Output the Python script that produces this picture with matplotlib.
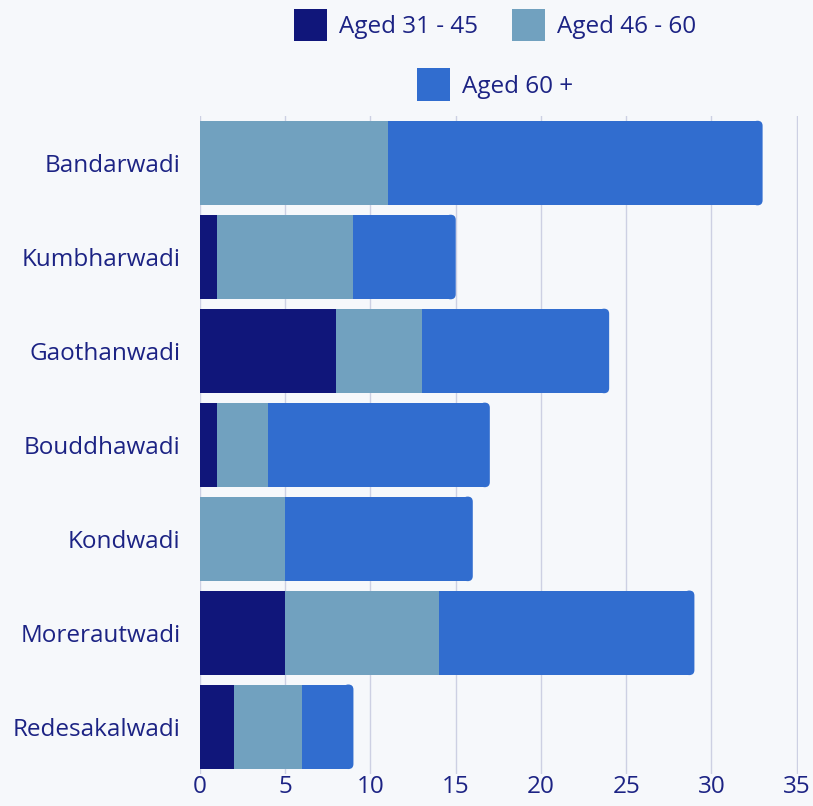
import numpy as np
import matplotlib.pyplot as plt
from matplotlib.patches import FancyBboxPatch, Patch

# ---------- data ----------
villages = ["Bandarwadi", "Kumbharwadi", "Gaothanwadi", "Bouddhawadi",
            "Kondwadi", "Morerautwadi", "Redesakalwadi"]
aged_31_45 = [0, 1, 8, 1, 0, 5, 2]
aged_46_60 = [11, 8, 5, 3, 5, 9, 4]
aged_60_plus = [22, 6, 11, 13, 11, 15, 3]
series_names = ["Aged 31 - 45", "Aged 46 - 60", "Aged 60 +"]
x_ticks = [0, 5, 10, 15, 20, 25, 30, 35]

# ---------- style ----------
colors = ["#10167a", "#71a1bf", "#316dcf"]
bg = "#f6f8fb"
text_col = "#1c2384"
grid_col = "#cdd0e3"
plt.rcParams['font.family'] = ['Open Sans', 'DejaVu Sans']

fig = plt.figure(figsize=(8.13, 8.06), dpi=100, facecolor=bg)
ax = fig.add_axes([0.246, 0.040, 0.735, 0.816], facecolor=bg)

y = np.arange(len(villages))
h = 0.9
r = 0.3                 # corner radius, x data units
aspect = 0.18           # y/x unit ratio for the corner

left = np.zeros(len(villages))
for k, vals in enumerate([aged_31_45, aged_46_60]):
    vals = np.array(vals, dtype=float)
    ax.barh(y, vals, left=left, height=h, color=colors[k], zorder=2)
    left += vals

# last segment with rounded right end
last = np.array(aged_60_plus, dtype=float)
ax.barh(y, last - r, left=left, height=h, color=colors[2], zorder=2)
for yi, l, w in zip(y, left, last):
    end = l + w
    ax.add_patch(FancyBboxPatch((end - 2 * r, yi - h / 2), 2 * r, h,
                                boxstyle=f"round,pad=0,rounding_size={r}",
                                mutation_aspect=aspect, linewidth=0,
                                facecolor=colors[2], zorder=2))

ax.set_yticks(y)
ax.set_yticklabels(villages)
ax.set_ylim(len(villages) - 0.5, -0.5)
ax.set_xlim(0, 35.05)
ax.set_xticks(x_ticks)
ax.tick_params(axis='both', length=0, labelsize=17.5, colors=text_col)
ax.tick_params(axis='y', pad=14)
ax.tick_params(axis='x', pad=1)
ax.xaxis.grid(True, color=grid_col, linewidth=1, zorder=0)
ax.set_axisbelow(True)
for s in ax.spines.values():
    s.set_visible(False)

# ---------- legend (2 + 1 rows, centered) ----------
handles = [Patch(facecolor=c, edgecolor='none') for c in colors]
leg_kw = dict(frameon=False, fontsize=17.5, labelcolor=text_col,
              handlelength=1.35, handleheight=1.7, handletextpad=0.5,
              columnspacing=1.4, loc='center')
fig.legend(handles[:2], series_names[:2], ncol=2,
           bbox_to_anchor=(0.609, 0.969), **leg_kw)
fig.legend(handles[2:], series_names[2:], ncol=1,
           bbox_to_anchor=(0.609, 0.895), **leg_kw)

fig.savefig("out.png", dpi=100, facecolor=bg)
